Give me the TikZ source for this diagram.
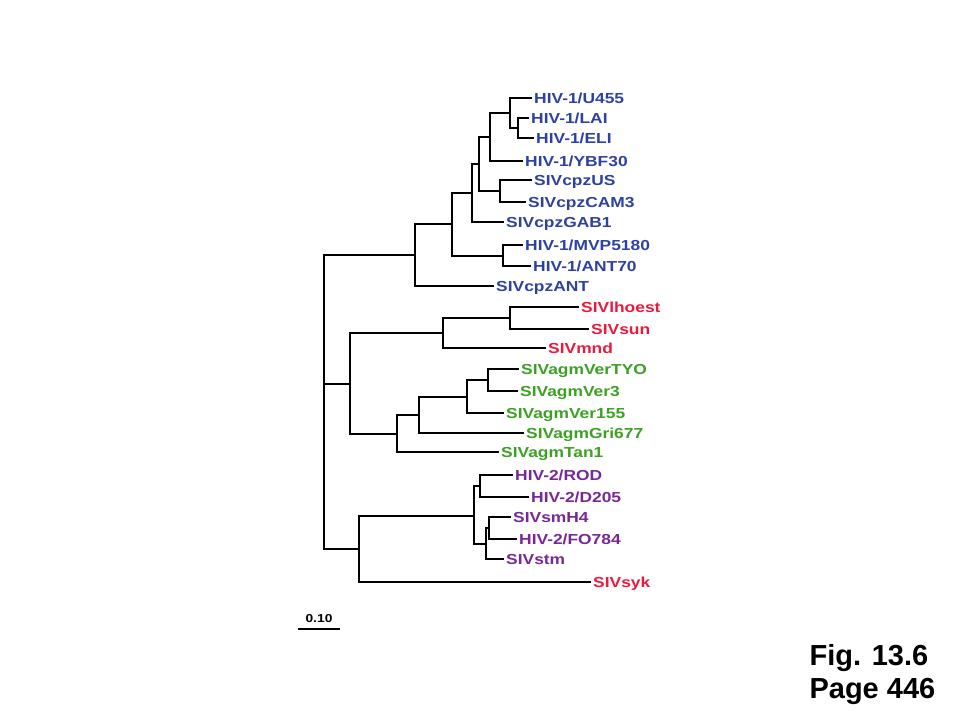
\documentclass[tikz,border=0pt]{standalone}
\usepackage{fontspec}
\setmainfont{Liberation Sans}
\newfontfamily\labfont[FakeStretch=1.2]{Liberation Sans}
\usepackage{tikz}
\definecolor{hivblue}{RGB}{45,65,165}
\definecolor{sivred}{RGB}{235,25,60}
\definecolor{agmgreen}{RGB}{60,160,35}
\definecolor{hivpurple}{RGB}{120,40,150}
\tikzstyle{branch} = [line width=1.8pt, line cap=rect]
\tikzstyle{taxon} = [anchor=west, inner sep=3pt, text height=10pt, text depth=0pt,
  font=\labfont\bfseries\fontsize{14.5}{16}\selectfont]

\begin{document}
\begin{tikzpicture}[x=1pt, y=-1pt]
\useasboundingbox (0,0) rectangle (960,720);

% inner nodes of the tree
\coordinate (root) at (324,401);
\coordinate (nLE) at (518,128);
\coordinate (nULE) at (510,113);
\coordinate (nY) at (490,137);
\coordinate (nUC) at (500,191);
\coordinate (nYU) at (479,164);
\coordinate (nG) at (472,193);
\coordinate (nMA) at (503,256);
\coordinate (nGM) at (452,224);
\coordinate (nHone) at (415,255);
\coordinate (nHS) at (510,318);
\coordinate (nR) at (443,333);
\coordinate (nTV) at (488,380);
\coordinate (nV) at (467,397);
\coordinate (nVG) at (419,415);
\coordinate (nGr) at (397,434);
\coordinate (nRG) at (350,384);
\coordinate (nRD) at (480,486);
\coordinate (nSF) at (489,528);
\coordinate (nSS) at (486,544);
\coordinate (nP) at (474,516);
\coordinate (nPS) at (359,549);

% HIV-1 / SIVcpz
\node[taxon, hivblue] (u455) at (531,98) {HIV-1/U455};
\node[taxon, hivblue] (lai) at (528,118) {HIV-1/LAI};
\node[taxon, hivblue] (eli) at (533,138) {HIV-1/ELI};
\node[taxon, hivblue] (ybf) at (522,161) {HIV-1/YBF30};
\node[taxon, hivblue] (cpzus) at (531,180) {SIVcpzUS};
\node[taxon, hivblue] (cam) at (525,202) {SIVcpzCAM3};
\node[taxon, hivblue] (gab) at (503,222) {SIVcpzGAB1};
\node[taxon, hivblue] (mvp) at (522,245) {HIV-1/MVP5180};
\node[taxon, hivblue] (antseventy) at (530,266) {HIV-1/ANT70};
\node[taxon, hivblue] (cpzant) at (493,286) {SIVcpzANT};
% red ones
\node[taxon, sivred] (hoest) at (578,307) {SIVlhoest};
\node[taxon, sivred] (sun) at (588,329) {SIVsun};
\node[taxon, sivred] (mnd) at (545,348) {SIVmnd};
% SIVagm
\node[taxon, agmgreen] (tyo) at (518,369) {SIVagmVerTYO};
\node[taxon, agmgreen] (verthree) at (517,391) {SIVagmVer3};
\node[taxon, agmgreen] (ver) at (503,413) {SIVagmVer155};
\node[taxon, agmgreen] (gri) at (523,433) {SIVagmGri677};
\node[taxon, agmgreen] (tan) at (498,452) {SIVagmTan1};
% HIV-2 / SIVsm
\node[taxon, hivpurple] (rod) at (512,475) {HIV-2/ROD};
\node[taxon, hivpurple] (d205) at (528,497) {HIV-2/D205};
\node[taxon, hivpurple] (smh) at (510,517) {SIVsmH4};
\node[taxon, hivpurple] (fo) at (516,539) {HIV-2/FO784};
\node[taxon, hivpurple] (stm) at (503,559) {SIVstm};
\node[taxon, sivred] (syk) at (590,582) {SIVsyk};

% branches
\draw[branch] (nLE) |- (lai.west) (nLE) |- (eli.west);
\draw[branch] (nULE) |- (u455.west) (nULE) |- (nLE);
\draw[branch] (nY) |- (nULE) (nY) |- (ybf.west);
\draw[branch] (nUC) |- (cpzus.west) (nUC) |- (cam.west);
\draw[branch] (nYU) |- (nY) (nYU) |- (nUC);
\draw[branch] (nG) |- (nYU) (nG) |- (gab.west);
\draw[branch] (nMA) |- (mvp.west) (nMA) |- (antseventy.west);
\draw[branch] (nGM) |- (nG) (nGM) |- (nMA);
\draw[branch] (nHone) |- (nGM) (nHone) |- (cpzant.west);
\draw[branch] (nHS) |- (hoest.west) (nHS) |- (sun.west);
\draw[branch] (nR) |- (nHS) (nR) |- (mnd.west);
\draw[branch] (nTV) |- (tyo.west) (nTV) |- (verthree.west);
\draw[branch] (nV) |- (nTV) (nV) |- (ver.west);
\draw[branch] (nVG) |- (nV) (nVG) |- (gri.west);
\draw[branch] (nGr) |- (nVG) (nGr) |- (tan.west);
\draw[branch] (nRG) |- (nR) (nRG) |- (nGr);
\draw[branch] (nRD) |- (rod.west) (nRD) |- (d205.west);
\draw[branch] (nSF) |- (smh.west) (nSF) |- (fo.west);
\draw[branch] (nSS) |- (nSF) (nSS) |- (stm.west);
\draw[branch] (nP) |- (nRD) (nP) |- (nSS);
\draw[branch] (nPS) |- (nP) (nPS) |- (syk.west);
\draw[branch] (root) |- (nHone) (root) |- (nRG) (root) |- (nPS);

% scale bar
\coordinate (sbL) at (298,629);
\coordinate (sbR) at (340,629);
\draw[line width=1.8pt] (sbL) -- node[above=2pt, font=\labfont\bfseries\fontsize{11.5}{13}\selectfont] (sblab) {0.10} (sbR);

\node[anchor=base west, font=\bfseries\fontsize{29}{34}\selectfont] (fig) at (806,665) {Fig. 13.6};
\node[anchor=base west, font=\bfseries\fontsize{29}{34}\selectfont] (page) at (806,698) {Page 446};
\end{tikzpicture}
\end{document}
